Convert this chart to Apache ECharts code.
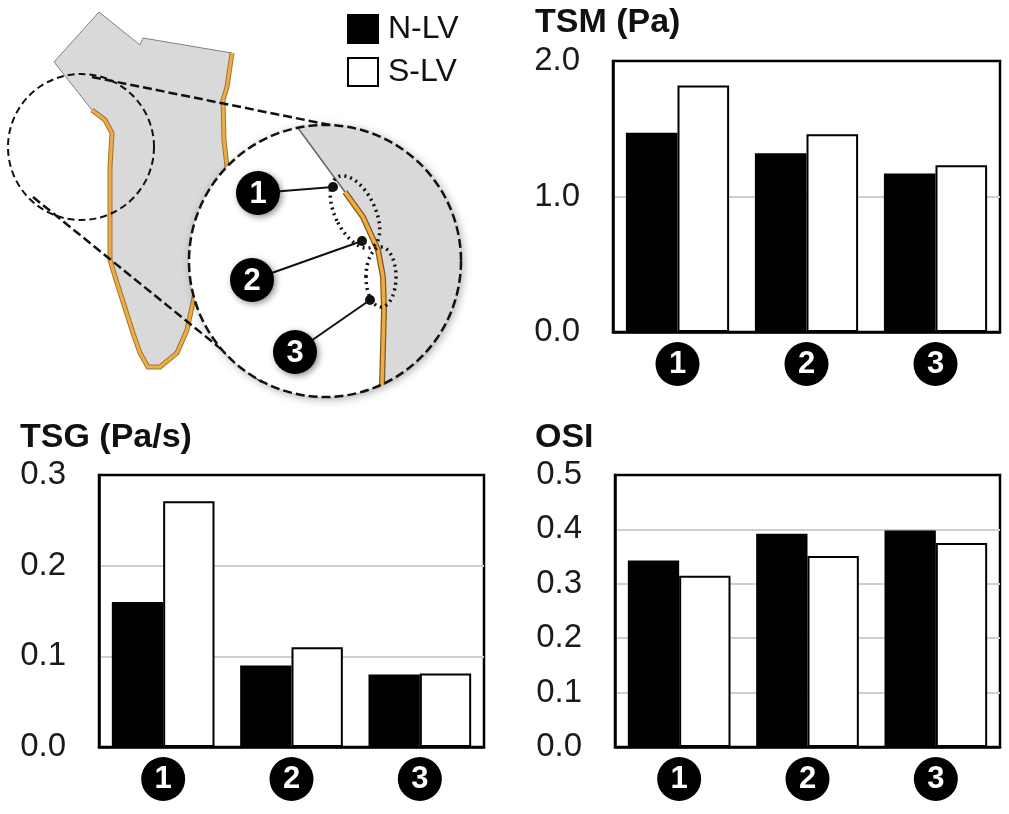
<!DOCTYPE html>
<html>
<head>
<meta charset="utf-8">
<script src="https://cdn.jsdelivr.net/npm/echarts@6/dist/echarts.min.js"></script>
<style>
html, body { margin: 0; padding: 0; background: #fff; }
#main { width: 1009px; height: 814px; }
</style>
</head>
<body>
<div id="main"></div>
<script>
var categories = ['1', '2', '3'];
var seriesNames = ['N-LV', 'S-LV'];

var tsmNLV = [1.47, 1.32, 1.17];
var tsmSLV = [1.82, 1.46, 1.23];
var tsgNLV = [0.160, 0.090, 0.080];
var tsgSLV = [0.271, 0.110, 0.081];
var osiNLV = [0.343, 0.392, 0.398];
var osiSLV = [0.315, 0.351, 0.375];

var panelTitles = ['TSM (Pa)', 'TSG (Pa/s)', 'OSI'];
var yMax = [2, 0.3, 0.5];
var yStep = [1, 0.1, 0.1];

var FONT = '"Liberation Sans", Arial, sans-serif';

var chart = echarts.init(document.getElementById('main'));

// grids: TSM top right, TSG bottom left, OSI bottom right
var grids = [
	{ left: 613, top: 61, width: 387, height: 271 },
	{ left: 99, top: 475, width: 385, height: 272 },
	{ left: 615, top: 475, width: 385, height: 272 }
];

function xAxisFor(i) {
	return {
		type: 'category',
		gridIndex: i,
		data: categories,
		axisLine: { show: true, lineStyle: { color: '#000', width: 2.5 } },
		axisTick: { show: false },
		axisLabel: {
			margin: 10,
			formatter: function(v) { return '{c|' + v + '}'; },
			rich: {
				c: {
					width: 44, height: 44, lineHeight: 44,
					borderRadius: 22,
					backgroundColor: '#000',
					color: '#fff',
					fontSize: 31,
					fontWeight: 'bold',
					fontFamily: FONT,
					align: 'center'
				}
			}
		}
	};
}

function yAxisFor(i) {
	return {
		type: 'value',
		gridIndex: i,
		min: 0,
		max: yMax[i],
		interval: yStep[i],
		axisLine: { show: true, lineStyle: { color: '#000', width: 2.5 } },
		axisTick: { show: false },
		splitLine: { showMinLine: false, showMaxLine: false, lineStyle: { color: '#cfcfcf', width: 2 } },
		axisLabel: {
			margin: 33,
			fontSize: 33,
			color: '#1a1a1a',
			fontFamily: FONT,
			formatter: function(v) { return v.toFixed(1); }
		}
	};
}

var blackStyle = { color: '#000', borderColor: '#000', borderWidth: 2 };
var whiteStyle = { color: '#fff', borderColor: '#000', borderWidth: 2 };

var seriesData = [[tsmNLV, tsmSLV], [tsgNLV, tsgSLV], [osiNLV, osiSLV]];
var series = [];
seriesData.forEach(function(pair, i) {
	series.push({
		name: seriesNames[0], type: 'bar', xAxisIndex: i, yAxisIndex: i,
		data: pair[0], itemStyle: blackStyle,
		barGap: '0%', barCategoryGap: '20%', z: 3
	});
	series.push({
		name: seriesNames[1], type: 'bar', xAxisIndex: i, yAxisIndex: i,
		data: pair[1], itemStyle: whiteStyle,
		barGap: '0%', barCategoryGap: '20%', z: 3
	});
});

// ---- illustration (vessel + zoomed view) ----
var vessel = [[54,62],[99,12],[140,45],[143,38],[232,53],[227,87],[223,100],[224,140],
	[227,167],[215,230],[195,293],[187,330],[177,353],[160,367],[148,367],[140,353],
	[133,333],[117,283],[110,260],[110,167],[112,133],[105,120],[92,110]];
var orangeEdge = [[232,53],[227,87],[223,100],[224,140],[227,167],[215,230],[195,293],
	[187,330],[177,353],[160,367],[148,367],[140,353],[133,333],[117,283],[110,260],
	[110,167],[112,133],[105,120],[92,110]];

var bigC = [325, 261], bigR = 136;
var innerOrange = [[345,192],[363,217],[378,250],[383,277],[384,310],[382,385]];
var greyZone = [[298,128]].concat(innerOrange);
for (var a = 65; a >= -101.5; a -= 3) {
	var r = a * Math.PI / 180;
	greyZone.push([bigC[0] + bigR * Math.cos(r), bigC[1] + bigR * Math.sin(r)]);
}

var markers = [
	{ n: '1', c: [258,193], d: [333,187] },
	{ n: '2', c: [252,280], d: [362,241] },
	{ n: '3', c: [295,352], d: [370,300] }
];

var graphics = [
	{ type: 'polygon', shape: { points: vessel }, style: { fill: '#d9d9d9', stroke: '#808080', lineWidth: 1 }, z: 1 },
	{ type: 'polyline', shape: { points: orangeEdge }, style: { stroke: '#9a7634', lineWidth: 5, fill: null }, z: 2 },
	{ type: 'polyline', shape: { points: orangeEdge }, style: { stroke: '#f0ab45', lineWidth: 3, fill: null }, z: 2 },
	{ type: 'circle', shape: { cx: 81, cy: 147, r: 73 }, style: { fill: null, stroke: '#111', lineWidth: 2, lineDash: [7, 4] }, z: 3 },
	{ type: 'line', shape: { x1: 92, y1: 77, x2: 340, y2: 127 }, style: { stroke: '#111', lineWidth: 2.5, lineDash: [9, 4] }, z: 3 },
	{ type: 'line', shape: { x1: 33, y1: 197, x2: 262, y2: 382 }, style: { stroke: '#111', lineWidth: 2.5, lineDash: [9, 4] }, z: 3 },
	{ type: 'circle', shape: { cx: bigC[0], cy: bigC[1], r: bigR }, style: { fill: '#fff', shadowBlur: 10, shadowColor: 'rgba(0,0,0,0.35)', shadowOffsetX: 2, shadowOffsetY: 2 }, z: 4 },
	{ type: 'polygon', shape: { points: greyZone }, style: { fill: '#d9d9d9' }, z: 5 },
	{ type: 'line', shape: { x1: 298, y1: 128, x2: 345, y2: 192 }, style: { stroke: '#666', lineWidth: 1.5 }, z: 6 },
	{ type: 'polyline', shape: { points: innerOrange }, style: { stroke: '#7a5a20', lineWidth: 6, fill: null }, z: 6 },
	{ type: 'polyline', shape: { points: innerOrange }, style: { stroke: '#f0ab45', lineWidth: 3.5, fill: null }, z: 6 },
	{ type: 'ellipse', shape: { cx: 355, cy: 212, rx: 20, ry: 39 }, rotation: 0.45, originX: 355, originY: 212, style: { fill: null, stroke: '#111', lineWidth: 3.5, lineDash: [2, 4] }, z: 7 },
	{ type: 'ellipse', shape: { cx: 381, cy: 277, rx: 15, ry: 30 }, style: { fill: null, stroke: '#111', lineWidth: 3.5, lineDash: [2, 4] }, z: 7 },
	{ type: 'circle', shape: { cx: bigC[0], cy: bigC[1], r: bigR }, style: { fill: null, stroke: '#111', lineWidth: 2.5, lineDash: [9, 4] }, z: 8 }
];
markers.forEach(function(m) {
	graphics.push({ type: 'line', shape: { x1: m.c[0], y1: m.c[1], x2: m.d[0], y2: m.d[1] }, style: { stroke: '#111', lineWidth: 2 }, z: 9 });
	graphics.push({ type: 'circle', shape: { cx: m.d[0], cy: m.d[1], r: 5 }, style: { fill: '#111' }, z: 9 });
	graphics.push({ type: 'circle', shape: { cx: m.c[0], cy: m.c[1], r: 22 }, style: { fill: '#000', shadowBlur: 6, shadowColor: 'rgba(0,0,0,0.45)', shadowOffsetX: 2, shadowOffsetY: 2 }, z: 10 });
	graphics.push({ type: 'text', x: m.c[0], y: m.c[1] + 1, style: { text: m.n, fill: '#fff', font: 'bold 31px ' + FONT, textAlign: 'center', textVerticalAlign: 'middle' }, z: 11 });
});

var option = {
	backgroundColor: '#fff',
	animation: false,
	title: [
		{ text: panelTitles[0], left: 530, top: 1, textStyle: { fontSize: 34, fontWeight: 'bold', color: '#111', fontFamily: FONT } },
		{ text: panelTitles[1], left: 15, top: 416, textStyle: { fontSize: 34, fontWeight: 'bold', color: '#111', fontFamily: FONT } },
		{ text: panelTitles[2], left: 530, top: 416, textStyle: { fontSize: 34, fontWeight: 'bold', color: '#111', fontFamily: FONT } }
	],
	legend: {
		orient: 'vertical',
		left: 342, top: 8,
		itemWidth: 30, itemHeight: 28, itemGap: 11,
		icon: 'rect',
		data: [
			{ name: seriesNames[0], itemStyle: { color: '#000', borderColor: '#000', borderWidth: 2 } },
			{ name: seriesNames[1], itemStyle: { color: '#fff', borderColor: '#000', borderWidth: 2 } }
		],
		textStyle: { fontSize: 32, color: '#111', fontFamily: FONT, padding: [0, 0, 0, 5] }
	},
	grid: grids.map(function(g) {
		return { left: g.left, top: g.top, width: g.width, height: g.height, show: true,
			borderColor: '#000', borderWidth: 2.5, backgroundColor: 'transparent', containLabel: false };
	}),
	xAxis: [xAxisFor(0), xAxisFor(1), xAxisFor(2)],
	yAxis: [yAxisFor(0), yAxisFor(1), yAxisFor(2)],
	graphic: graphics,
	series: series
};

chart.setOption(option);
</script>
</body>
</html>
